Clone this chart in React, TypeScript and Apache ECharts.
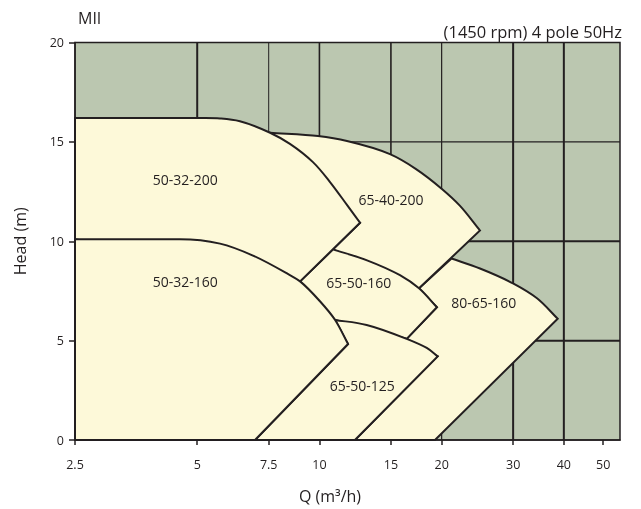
import { useEffect, useRef } from 'react';
import * as echarts from 'echarts';

// Axis ticks / grid
const X_TICKS = [2.5, 5, 7.5, 10, 15, 20, 30, 40, 50];
const X_GRID = [5, 7.5, 10, 15, 20, 30, 40];
const Y_GRID = [5, 10, 15];

// Pump regions, drawn back to front
const PUMP_NAMES = ['80-65-160', '65-40-200', '65-50-160', '65-50-125', '50-32-200', '50-32-160'];

// label anchor [Q, H]
const LABEL_POS = [
  [25.4, 6.9],
  [15.0, 12.1],
  [12.5, 7.9],
  [12.75, 2.76],
  [4.67, 13.1],
  [4.67, 7.96],
];

// Each region: an H-Q curve (top) followed by straight edges, [Q (m3/h), H (m)]
const CURVE_80_65_160 = [[21.15, 9.13], [24.86, 8.63], [29.98, 7.88], [34.35, 7.13], [38.63, 6.1]];
const EDGES_80_65_160 = [[19.26, 0], [12.23, 0], [19.55, 4.21], [16.4, 5.09], [19.47, 6.68], [17.59, 7.63]];

const CURVE_65_40_200 = [[7.56, 15.46], [9.92, 15.29], [11.69, 15.04], [14.92, 14.38], [17.3, 13.63], [20.03, 12.63], [22.2, 11.78], [24.86, 10.54]];
const EDGES_65_40_200 = [[17.59, 7.63], [10.8, 9.59], [12.59, 10.93]];

const CURVE_65_50_160 = [[10.8, 9.59], [13.1, 9.04], [15.79, 8.29], [17.59, 7.63], [19.47, 6.68]];
const EDGES_65_50_160 = [[16.4, 5.09], [10.93, 6.04], [8.96, 7.98]];

const CURVE_65_50_125 = [[10.93, 6.04], [13.07, 5.79], [16.4, 5.09], [18.38, 4.63], [19.55, 4.21]];
const EDGES_65_50_125 = [[12.23, 0], [6.94, 0], [11.76, 4.83]];

const CURVE_50_32_200 = [[2.5, 16.2], [5.08, 16.2], [5.69, 16.18], [6.37, 16.04], [7.56, 15.46], [8.46, 14.9], [9.64, 13.98], [10.62, 12.98], [11.69, 11.83], [12.59, 10.93]];
const EDGES_50_32_200 = [[8.96, 7.98], [2.5, 10.1]];

const CURVE_50_32_160 = [[2.5, 10.1], [4.53, 10.1], [5.69, 9.88], [6.86, 9.28], [8.32, 8.38], [8.96, 7.98], [10.03, 6.98], [10.93, 6.04], [11.76, 4.83]];
const EDGES_50_32_160 = [[6.94, 0], [2.5, 0]];

const CURVES = [CURVE_80_65_160, CURVE_65_40_200, CURVE_65_50_160, CURVE_65_50_125, CURVE_50_32_200, CURVE_50_32_160];
const EDGES = [EDGES_80_65_160, EDGES_65_40_200, EDGES_65_50_160, EDGES_65_50_125, EDGES_50_32_200, EDGES_50_32_160];

const X_MIN = 2.5;
const X_MAX = 55;
const Y_MIN = 0;
const Y_MAX = 20;

const FONT = '"Open Sans", sans-serif';
const INK = '#231f20';
const GREEN = '#bbc7b0';
const CREAM = '#fdf9d9';
const X_GRID_WIDTH: Record<string, number> = { '5': 2, '7.5': 1, '10': 1.6, '15': 1.6, '20': 1.2, '30': 2, '40': 2 };
const Y_GRID_WIDTH: Record<string, number> = { '5': 2, '10': 2, '15': 1.2 };

// centripetal Catmull-Rom through pixel points (a leading flat run stays straight), then straight edges
function regionPath(pts: number[][], edges: number[][]): string {
  const f = (n: number) => n.toFixed(2);
  const dist = (a: number[], b: number[]) => Math.sqrt(Math.hypot(b[0] - a[0], b[1] - a[1]));
  let d = `M${f(pts[0][0])} ${f(pts[0][1])}`;
  let start = 0;
  let lead: number[] | null = null;
  if (pts.length > 2 && Math.abs(pts[0][1] - pts[1][1]) < 0.01) {
    d += `L${f(pts[1][0])} ${f(pts[1][1])}`;
    lead = pts[0];
    start = 1;
  }
  for (let i = start; i < pts.length - 1; i++) {
    const p1 = pts[i];
    const p2 = pts[i + 1];
    const p0 = i > start ? pts[i - 1] : null;
    const p3 = pts[i + 2];
    const d2 = dist(p1, p2);
    let b1: number[];
    let b2: number[];
    if (p0) {
      const d1 = dist(p0, p1);
      const den = 3 * d1 * (d1 + d2);
      b1 = [0, 1].map((k) => (d1 * d1 * p2[k] - d2 * d2 * p0[k] + (2 * d1 * d1 + 3 * d1 * d2 + d2 * d2) * p1[k]) / den);
    } else if (lead) {
      const len = Math.hypot(p2[0] - p1[0], p2[1] - p1[1]) / 3;
      const ux = p1[0] - lead[0];
      const uy = p1[1] - lead[1];
      const ul = Math.hypot(ux, uy);
      b1 = [p1[0] + (ux / ul) * len, p1[1] + (uy / ul) * len];
    } else {
      b1 = [p1[0] + (p2[0] - p1[0]) / 3, p1[1] + (p2[1] - p1[1]) / 3];
    }
    if (p3) {
      const d3 = dist(p2, p3);
      const den = 3 * d3 * (d3 + d2);
      b2 = [0, 1].map((k) => (d3 * d3 * p1[k] - d2 * d2 * p3[k] + (2 * d3 * d3 + 3 * d3 * d2 + d2 * d2) * p2[k]) / den);
    } else {
      b2 = [p2[0] - (p2[0] - p1[0]) / 3, p2[1] - (p2[1] - p1[1]) / 3];
    }
    d += `C${f(b1[0])} ${f(b1[1])} ${f(b2[0])} ${f(b2[1])} ${f(p2[0])} ${f(p2[1])}`;
  }
  for (const e of edges) d += `L${f(e[0])} ${f(e[1])}`;
  return d + 'Z';
}

export default function App() {
  const ref = useRef<HTMLDivElement>(null);
  useEffect(() => {
    const chart = echarts.init(ref.current!, null, { renderer: 'svg' });
    chart.setOption({
      animation: false,
      title: [
        { text: 'MII', left: 78, top: 10, padding: 0, textStyle: { fontSize: 16, fontWeight: 'normal', color: INK, fontFamily: FONT } },
        { text: '(1450 rpm) 4 pole 50Hz', right: 19, top: 23, padding: 0, textStyle: { fontSize: 16.5, fontWeight: 'normal', color: INK, fontFamily: FONT } },
      ],
      grid: { left: 75, right: 21, top: 42.5, bottom: 66.5, show: true, backgroundColor: GREEN, borderColor: INK, borderWidth: 1.5 },
      xAxis: {
        type: 'log', logBase: 10, min: X_MIN, max: X_MAX, z: 10,
        axisLine: { lineStyle: { color: INK, width: 1.5 } },
        axisTick: { customValues: X_TICKS, length: 5, lineStyle: { color: INK, width: 1.5 } },
        axisLabel: { customValues: X_TICKS, margin: 18, color: INK, fontSize: 12.5, fontFamily: FONT, formatter: (v: number) => String(v) },
        splitLine: { show: false },
        minorTick: { show: false },
        name: 'Q (m³/h)', nameLocation: 'middle', nameGap: 48,
        nameTextStyle: { color: INK, fontSize: 16, fontFamily: FONT, padding: [0, 35, 0, 0] },
      },
      yAxis: {
        type: 'value', min: Y_MIN, max: Y_MAX, interval: 5, z: 10,
        axisLine: { show: true, lineStyle: { color: INK, width: 1.5 } },
        axisTick: { show: true, length: 6, lineStyle: { color: INK, width: 1.5 } },
        axisLabel: { margin: 11, color: INK, fontSize: 12.5, fontFamily: FONT },
        splitLine: { show: false },
        name: 'Head (m)', nameLocation: 'middle', nameGap: 47, nameRotate: 90,
        nameTextStyle: { color: INK, fontSize: 16, fontFamily: FONT },
      },
      series: [
        {
          type: 'custom', name: 'gridX', silent: true, z: 1,
          data: X_GRID.map((q) => [q, Y_MAX]),
          renderItem: (params: any, api: any) => {
            const q = X_GRID[params.dataIndex];
            const a = api.coord([q, Y_MIN]);
            const b = api.coord([q, Y_MAX]);
            return { type: 'line', shape: { x1: a[0], y1: a[1], x2: b[0], y2: b[1] }, style: { stroke: INK, lineWidth: X_GRID_WIDTH[String(q)] } };
          },
        },
        {
          type: 'custom', name: 'gridY', silent: true, z: 1,
          data: Y_GRID.map((h) => [X_MIN, h]),
          renderItem: (params: any, api: any) => {
            const h = Y_GRID[params.dataIndex];
            const a = api.coord([X_MIN, h]);
            const b = api.coord([X_MAX, h]);
            return { type: 'line', shape: { x1: a[0], y1: a[1], x2: b[0], y2: b[1] }, style: { stroke: INK, lineWidth: Y_GRID_WIDTH[String(h)] } };
          },
        },
        {
          type: 'custom', name: 'pumps', silent: true, z: 3,
          data: PUMP_NAMES.map((n, i) => ({ name: n, value: LABEL_POS[i] })),
          renderItem: (params: any, api: any) => {
            const i = params.dataIndex;
            const curve = CURVES[i].map((p) => api.coord(p));
            const edges = EDGES[i].map((p) => api.coord(p));
            const c = api.coord(LABEL_POS[i]);
            return {
              type: 'group',
              children: [
                { type: 'path', shape: { pathData: regionPath(curve, edges) }, style: { fill: CREAM, stroke: INK, lineWidth: 2, lineJoin: 'miter' } },
                { type: 'text', x: c[0], y: c[1], style: { text: PUMP_NAMES[i], fill: INK, fontSize: 14, fontFamily: FONT, align: 'center', verticalAlign: 'middle' } },
              ],
            };
          },
        },
      ],
    });
    return () => chart.dispose();
  }, []);
  return <div ref={ref} style={{ position: 'fixed', left: 0, top: 0, width: 641, height: 509 }} />;
}
